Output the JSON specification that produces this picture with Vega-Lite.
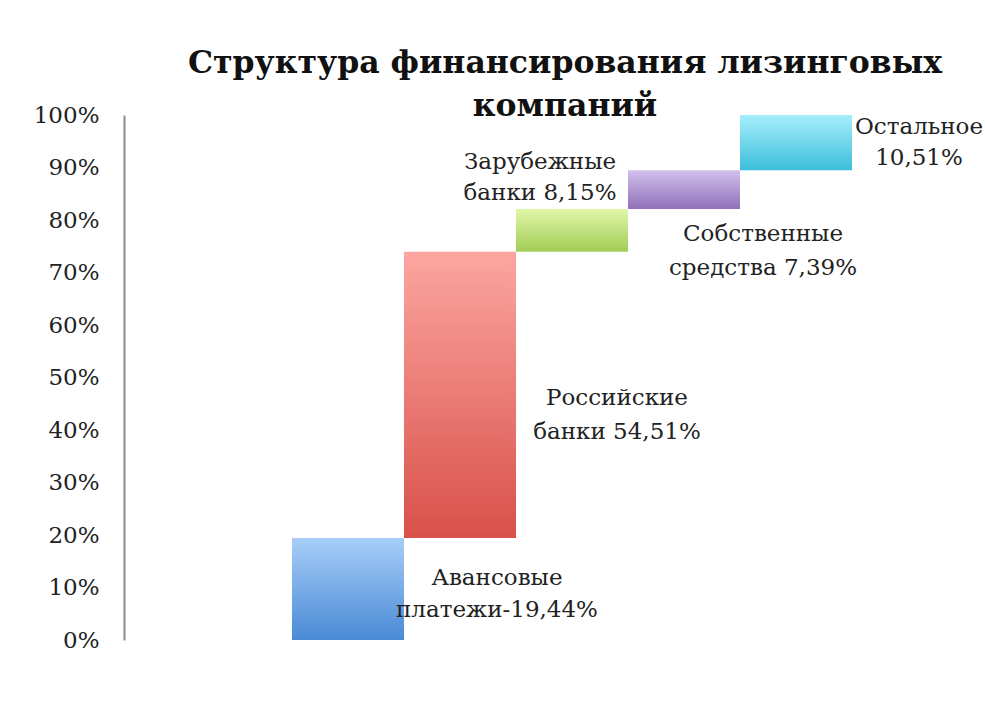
{
  "$schema": "https://vega.github.io/schema/vega-lite/v6.json",
  "width": 784,
  "height": 525,
  "autosize": {"type": "none"},
  "padding": {"left": 124, "top": 115, "right": 77, "bottom": 76},
  "background": "white",
  "config": {"view": {"stroke": null}, "font": "DejaVu Serif"},
  "title": {
    "text": ["Структура финансирования лизинговых", "компаний"],
    "fontSize": 31.5,
    "font": "DejaVu Serif",
    "fontWeight": "bold",
    "color": "#111111",
    "lineHeight": 43,
    "anchor": "middle",
    "dx": 49,
    "dy": 18,
    "offset": 0
  },
  "data": {
    "values": [
      {"cat": "Авансовые платежи", "start": 0, "end": 0.1944, "label": "Авансовые\nплатежи-19,44%"},
      {"cat": "Российские банки", "start": 0.1944, "end": 0.7395, "label": "Российские\nбанки 54,51%"},
      {"cat": "Зарубежные банки", "start": 0.7395, "end": 0.821, "label": "Зарубежные\nбанки 8,15%"},
      {"cat": "Собственные средства", "start": 0.821, "end": 0.8949, "label": "Собственные\nсредства 7,39%"},
      {"cat": "Остальное", "start": 0.8949, "end": 1.0, "label": "Остальное\n10,51%"}
    ]
  },
  "encoding": {
    "x": {
      "field": "cat",
      "type": "nominal",
      "sort": null,
      "scale": {"paddingInner": 0, "paddingOuter": 1, "align": 0.75},
      "axis": null
    }
  },
  "layer": [
    {
      "mark": {"type": "bar"},
      "encoding": {
        "y": {
          "field": "end",
          "type": "quantitative",
          "scale": {"domain": [0, 1], "nice": false},
          "axis": {
            "title": null,
            "format": ".0%",
            "values": [0, 0.1, 0.2, 0.3, 0.4, 0.5, 0.6, 0.7, 0.8, 0.9, 1],
            "ticks": false,
            "grid": false,
            "domainColor": "#8c8c8c",
            "domainWidth": 2,
            "labelPadding": 25,
            "labelFont": "DejaVu Serif",
            "labelFontSize": 23,
            "labelColor": "#222222"
          }
        },
        "y2": {"field": "start"},
        "color": {
          "condition": [
            {"test": "datum.cat === 'Авансовые платежи'", "value": {"gradient": "linear", "x1": 0, "y1": 0, "x2": 0, "y2": 1, "stops": [{"offset": 0, "color": "#a8cef9"}, {"offset": 1, "color": "#4a8ad6"}]}},
            {"test": "datum.cat === 'Российские банки'", "value": {"gradient": "linear", "x1": 0, "y1": 0, "x2": 0, "y2": 1, "stops": [{"offset": 0, "color": "#fca6a1"}, {"offset": 1, "color": "#d9504a"}]}},
            {"test": "datum.cat === 'Зарубежные банки'", "value": {"gradient": "linear", "x1": 0, "y1": 0, "x2": 0, "y2": 1, "stops": [{"offset": 0, "color": "#e0f6aa"}, {"offset": 1, "color": "#a2cd55"}]}},
            {"test": "datum.cat === 'Собственные средства'", "value": {"gradient": "linear", "x1": 0, "y1": 0, "x2": 0, "y2": 1, "stops": [{"offset": 0, "color": "#d2c0ee"}, {"offset": 1, "color": "#9070b8"}]}}
          ],
          "value": {"gradient": "linear", "x1": 0, "y1": 0, "x2": 0, "y2": 1, "stops": [{"offset": 0, "color": "#a7eefb"}, {"offset": 1, "color": "#3bbedb"}]}
        }
      }
    },
    {
      "transform": [{"filter": "datum.cat === 'Авансовые платежи'"}],
      "mark": {"type": "text", "lineBreak": "\n", "fontSize": 23, "font": "DejaVu Serif", "color": "#222222", "lineHeight": 32, "baseline": "middle", "align": "center", "dx": 149, "dy": 40},
      "encoding": {"y": {"field": "end", "type": "quantitative"}, "text": {"field": "label"}}
    },
    {
      "transform": [{"filter": "datum.cat === 'Российские банки'"}],
      "mark": {"type": "text", "lineBreak": "\n", "fontSize": 23, "font": "DejaVu Serif", "color": "#222222", "lineHeight": 34, "baseline": "middle", "align": "center", "dx": 157, "dy": 146},
      "encoding": {"y": {"field": "end", "type": "quantitative"}, "text": {"field": "label"}}
    },
    {
      "transform": [{"filter": "datum.cat === 'Зарубежные банки'"}],
      "mark": {"type": "text", "lineBreak": "\n", "fontSize": 23, "font": "DejaVu Serif", "color": "#222222", "lineHeight": 31, "baseline": "middle", "align": "center", "dx": -32, "dy": -47},
      "encoding": {"y": {"field": "end", "type": "quantitative"}, "text": {"field": "label"}}
    },
    {
      "transform": [{"filter": "datum.cat === 'Собственные средства'"}],
      "mark": {"type": "text", "lineBreak": "\n", "fontSize": 23, "font": "DejaVu Serif", "color": "#222222", "lineHeight": 34, "baseline": "middle", "align": "center", "dx": 79, "dy": 64},
      "encoding": {"y": {"field": "end", "type": "quantitative"}, "text": {"field": "label"}}
    },
    {
      "transform": [{"filter": "datum.cat === 'Остальное'"}],
      "mark": {"type": "text", "lineBreak": "\n", "fontSize": 23, "font": "DejaVu Serif", "color": "#222222", "lineHeight": 31, "baseline": "middle", "align": "center", "dx": 123, "dy": 12},
      "encoding": {"y": {"field": "end", "type": "quantitative"}, "text": {"field": "label"}}
    }
  ]
}
